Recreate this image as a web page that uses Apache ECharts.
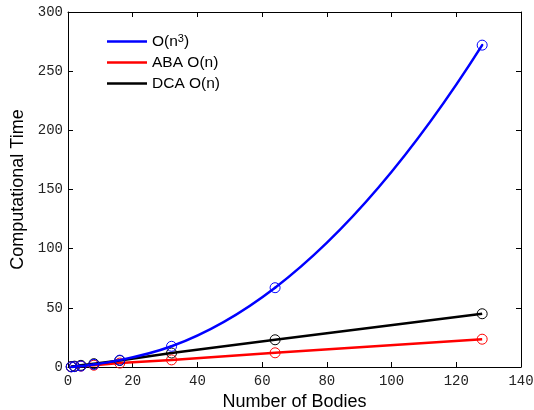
<!DOCTYPE html>
<html>
<head>
<meta charset="utf-8">
<script src="https://cdn.jsdelivr.net/npm/echarts@6/dist/echarts.min.js"></script>
<style>html,body{margin:0;padding:0;background:#fff;}#c{width:534px;height:410px;}</style>
</head>
<body>
<div id="c"></div>
<script>
// Data
var nBodies = [1, 2, 4, 8, 16, 32, 64, 128];
var cubicTime = [0.1, 0.3, 0.8, 2.2, 5.8, 17.5, 67, 272];
var abaTime = [0.2, 0.4, 0.8, 1.5, 3.3, 6, 12, 23.5];
var dcaTime = [0.35, 0.7, 1.4, 2.8, 5.5, 11.8, 23, 45];
var xTicks = {min: 0, max: 140, interval: 20};
var yTicks = {min: 0, max: 300, interval: 50};
var seriesNames = ['O(n3)', 'ABA O(n)', 'DCA O(n)'];

function pairs(ys) { return nBodies.map(function (n, i) { return [n, ys[i]]; }); }

// slope at point i (three-point, non-uniform spacing) for smooth rendering
function slopeAt(xs, ys, i) {
  var n = xs.length;
  if (i === 0) {
    var h0 = xs[1] - xs[0], h1 = xs[2] - xs[1];
    var d0 = (ys[1] - ys[0]) / h0, d1 = (ys[2] - ys[1]) / h1;
    return d0 - (d1 - d0) * h0 / (h0 + h1);
  }
  if (i === n - 1) {
    var g0 = xs[n - 2] - xs[n - 3], g1 = xs[n - 1] - xs[n - 2];
    var e0 = (ys[n - 2] - ys[n - 3]) / g0, e1 = (ys[n - 1] - ys[n - 2]) / g1;
    return e1 + (e1 - e0) * g1 / (g0 + g1);
  }
  var a = xs[i] - xs[i - 1], b = xs[i + 1] - xs[i];
  var sa = (ys[i] - ys[i - 1]) / a, sb = (ys[i + 1] - ys[i]) / b;
  return (sa * b + sb * a) / (a + b);
}

var chart = echarts.init(document.getElementById('c'));
var tickFont = {fontFamily: 'Liberation Mono', fontSize: 14, color: '#222'};
function mkX(pos, main) {
  return {
    type: 'value', position: pos, min: xTicks.min, max: xTicks.max, interval: xTicks.interval,
    axisLine: {show: true, onZero: false, lineStyle: {color: '#000', width: 1}},
    axisTick: {show: true, inside: true, length: 5, lineStyle: {color: '#000'}},
    axisLabel: main ? Object.assign({show: true, margin: 7}, tickFont) : {show: false},
    splitLine: {show: false},
    name: main ? 'Number of Bodies' : '', nameLocation: 'middle', nameGap: 19,
    nameTextStyle: {fontFamily: 'Liberation Sans', fontSize: 18, color: '#000'}
  };
}
function mkY(pos, main) {
  return {
    type: 'value', position: pos, min: yTicks.min, max: yTicks.max, interval: yTicks.interval,
    axisLine: {show: true, onZero: false, lineStyle: {color: '#000', width: 1}},
    axisTick: {show: true, inside: true, length: 5, lineStyle: {color: '#000'}},
    axisLabel: main ? Object.assign({show: true, margin: 5}, tickFont) : {show: false},
    splitLine: {show: false},
    name: main ? 'Computational Time' : '', nameLocation: 'middle', nameGap: 36,
    nameTextStyle: {fontFamily: 'Liberation Sans', fontSize: 18, color: '#000'}
  };
}
function line(name, color, ys, showLine, z) {
  return {
    name: name, type: 'line', data: pairs(ys), xAxisIndex: 0, yAxisIndex: 0,
    z: z,
    symbol: 'circle', symbolSize: 10, showSymbol: true,
    lineStyle: {color: color, width: showLine ? 2.5 : 0, opacity: showLine ? 1 : 0},
    itemStyle: {color: 'rgba(0,0,0,0)', borderColor: color, borderWidth: 1},
    emphasis: {disabled: true}, animation: false
  };
}
var curveSeries = {
  name: 'O(n3) curve', type: 'custom', coordinateSystem: 'cartesian2d',
  xAxisIndex: 0, yAxisIndex: 0, z: 4, silent: true, animation: false,
  data: pairs(cubicTime),
  encode: {x: 0, y: 1},
  renderItem: function (params, api) {
    var i = params.dataIndex;
    if (i >= nBodies.length - 1) return null;
    var x0 = nBodies[i], x1 = nBodies[i + 1];
    var y0 = cubicTime[i], y1 = cubicTime[i + 1];
    var h = (x1 - x0) / 3;
    var m0 = slopeAt(nBodies, cubicTime, i), m1 = slopeAt(nBodies, cubicTime, i + 1);
    var p0 = api.coord([x0, y0]), p1 = api.coord([x1, y1]);
    var c0 = api.coord([x0 + h, y0 + m0 * h]), c1 = api.coord([x1 - h, y1 - m1 * h]);
    return {
      type: 'bezierCurve',
      shape: {x1: p0[0], y1: p0[1], x2: p1[0], y2: p1[1], cpx1: c0[0], cpy1: c0[1], cpx2: c1[0], cpy2: c1[1]},
      style: {stroke: '#0000ff', lineWidth: 2.5, fill: null, lineCap: 'round'}
    };
  }
};
chart.setOption({
  animation: false,
  grid: {left: 68, right: 13, top: 12, bottom: 43, containLabel: false, outerBoundsMode: 'none'},
  xAxis: [mkX('bottom', true), mkX('top', false)],
  yAxis: [mkY('left', true), mkY('right', false)],
  legend: {
    orient: 'vertical', left: 107, top: 33, padding: 0, itemWidth: 40, itemHeight: 2.5, itemGap: 5,
    icon: 'rect',
    data: [
      {name: seriesNames[0], itemStyle: {color: '#0000ff', borderWidth: 0}},
      {name: seriesNames[1], itemStyle: {color: '#ff0000', borderWidth: 0}},
      {name: seriesNames[2], itemStyle: {color: '#000000', borderWidth: 0}}
    ],
    formatter: function (name) {
      if (name === 'O(n3)') return '{a|O(n}{s|3}{a|)}';
      return '{a|' + name + '}';
    },
    textStyle: {
      fontFamily: 'Liberation Sans', fontSize: 15.5, color: '#000', padding: [0, 0, 0, 0],
      rich: {
        a: {fontFamily: 'Liberation Sans', fontSize: 15.5, color: '#000', lineHeight: 17},
        s: {fontFamily: 'Liberation Sans', fontSize: 11, color: '#000', verticalAlign: 'top', lineHeight: 10}
      }
    },
    selectedMode: false
  },
  series: [
    line(seriesNames[1], '#ff0000', abaTime, true, 2),
    line(seriesNames[2], '#000000', dcaTime, true, 3),
    curveSeries,
    line(seriesNames[0], '#0000ff', cubicTime, false, 5)
  ]
});
</script>
</body>
</html>
